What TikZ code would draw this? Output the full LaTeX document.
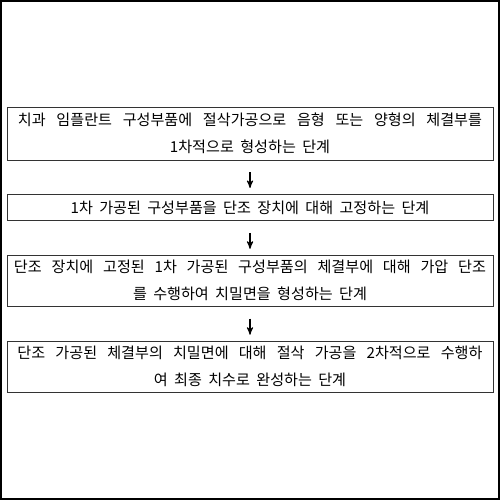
\documentclass[tikz,border=0pt]{standalone}
\usepackage{fontspec}
\usepackage{tikz}
\usetikzlibrary{arrows,positioning}
\newfontfamily\krfont{Noto Sans CJK KR}

\tikzset{
  stepbox/.style={draw=black!80, line width=0.5pt, inner sep=0pt, text width=9.72cm,
    align=center, font={\krfont\fontsize{8.6}{15.4}\selectfont}},
}
\newcommand{\wordgap}{\spaceskip=0.42em\relax}
\newcommand{\fullline}[2]{\makebox[#1][s]{\spaceskip=0.3em plus 1fil\relax #2}}

\begin{document}
\begin{tikzpicture}[->, >=stealth', semithick, node distance=0.67cm]
            \useasboundingbox (0,0) rectangle (10,10);
            \draw[-, line width=1pt] (0.02,0.02) rectangle (9.98,9.98);
            \node[stepbox, minimum height=1.06cm] (P1) at (5,7.33)
                {\wordgap\fullline{9.28cm}{치과 임플란트 구성부품에 절삭가공으로 음형 또는 양형의 체결부를}\\1차적으로 형성하는 단계};
            \node[stepbox, minimum height=0.52cm] (P2) [below=of P1]
                {\wordgap 1차 가공된 구성부품을 단조 장치에 대해 고정하는 단계};
            \node[stepbox, minimum height=1.02cm] (P3) [below=0.68cm of P2]
                {\wordgap\fullline{9.44cm}{단조 장치에 고정된 1차 가공된 구성부품의 체결부에 대해 가압 단조}\\를 수행하여 치밀면을 형성하는 단계};
            \node[stepbox, minimum height=1.02cm] (P4) [below=0.68cm of P3]
                {\wordgap\fullline{9.3cm}{단조 가공된 체결부의 치밀면에 대해 절삭 가공을 2차적으로 수행하}\\여 최종 치수로 완성하는 단계};
            \path[shorten <=0.24cm, shorten >=0.12cm]
                    (P1) edge (P2)
                    (P2) edge (P3)
                    (P3) edge (P4);
        \end{tikzpicture}
\end{document}
